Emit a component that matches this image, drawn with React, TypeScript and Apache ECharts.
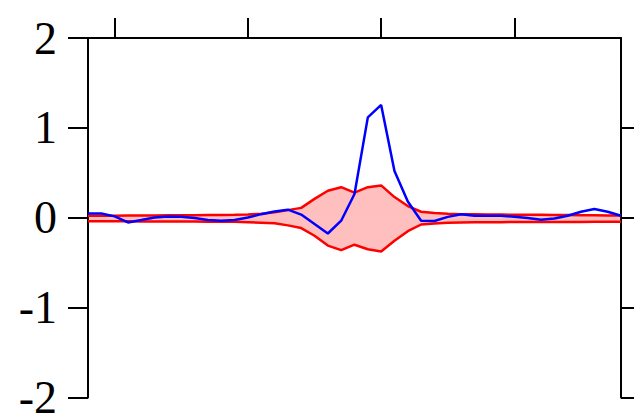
import React, { useEffect, useRef } from "react";
import * as echarts from "echarts";

const lags = [
  -22, -21, -20, -19, -18, -17, -16, -15, -14, -13, -12, -11, -10, -9, -8, -7, -6, -5, -4, -3, -2,
  -1, 0, 1, 2, 3, 4, 5, 6, 7, 8, 9, 10, 11, 12, 13, 14, 15, 16, 17, 18,
];

const observed = [
  0.048, 0.048, 0.015, -0.052, -0.026, 0.003, 0.015, 0.01, -0.003, -0.026, -0.033,
  -0.026, 0.003, 0.04, 0.07, 0.09, 0.035, -0.07, -0.175, -0.033, 0.264,
  1.117, 1.255, 0.52, 0.18, -0.033, -0.036, 0.01, 0.04, 0.022, 0.022,
  0.022, 0.01, -0.003, -0.022, -0.008, 0.022, 0.067, 0.097, 0.067, 0.022,
];

const upperBound = [
  0.022, 0.022, 0.022, 0.025, 0.025, 0.025, 0.027, 0.027, 0.028, 0.03, 0.03,
  0.032, 0.035, 0.045, 0.06, 0.085, 0.11, 0.21, 0.3, 0.34, 0.28,
  0.34, 0.36, 0.23, 0.13, 0.067, 0.052, 0.045, 0.04, 0.038, 0.036,
  0.035, 0.034, 0.033, 0.032, 0.03, 0.03, 0.028, 0.027, 0.026, 0.025,
];

const lowerBound = [
  -0.04, -0.04, -0.04, -0.04, -0.041, -0.041, -0.042, -0.042, -0.043, -0.044, -0.045,
  -0.045, -0.05, -0.055, -0.06, -0.085, -0.115, -0.2, -0.31, -0.36, -0.3,
  -0.35, -0.375, -0.256, -0.15, -0.075, -0.063, -0.055, -0.052, -0.05, -0.05,
  -0.049, -0.048, -0.048, -0.047, -0.047, -0.046, -0.046, -0.045, -0.045, -0.045,
];

const yTicks = [-2, -1, 0, 1, 2];
const topTicks = [-20, -10, 0, 10];
const rightTicks = [-2, -1, 0, 1];

export default function App() {
  const ref = useRef<HTMLDivElement>(null);
  useEffect(() => {
    if (!ref.current) return;
    const chart = echarts.init(ref.current, undefined, { renderer: "svg" });
    const pairs = (vals: number[]) => vals.map((v, i) => [lags[i], v]);
    const axisLine = { show: true, onZero: false, lineStyle: { color: "#000", width: 2 } };
    const bandFill = { color: "rgba(255,0,0,0.25)", opacity: 1, origin: 0 };
    chart.setOption({
      animation: false,
      backgroundColor: "#fff",
      grid: { left: 88, right: 13, top: 38, bottom: 15.5, containLabel: false, outerBoundsMode: "none" },
      xAxis: {
        type: "value",
        position: "top",
        min: lags[0],
        max: lags[lags.length - 1],
        axisLine,
        axisTick: { show: true, inside: false, length: 20, customValues: topTicks, lineStyle: { color: "#000", width: 2 } },
        axisLabel: { show: false },
        splitLine: { show: false },
      },
      yAxis: [
        {
          type: "value",
          position: "left",
          min: yTicks[0],
          max: yTicks[yTicks.length - 1],
          interval: 1,
          axisLine,
          axisTick: { show: true, inside: false, length: 20, lineStyle: { color: "#000", width: 2 } },
          axisLabel: {
            show: true,
            margin: 31,
            fontFamily: "Liberation Serif",
            fontSize: 46,
            color: "#000",
            customValues: yTicks,
          },
          splitLine: { show: false },
        },
        {
          type: "value",
          position: "right",
          min: yTicks[0],
          max: yTicks[yTicks.length - 1],
          interval: 1,
          axisLine,
          axisTick: { show: true, inside: false, length: 16, customValues: rightTicks, lineStyle: { color: "#000", width: 2 } },
          axisLabel: { show: false },
          splitLine: { show: false },
        },
      ],
      series: [
        {
          type: "line",
          data: pairs(upperBound),
          symbol: "none",
          lineStyle: { color: "#ff0000", width: 2.5 },
          areaStyle: bandFill,
        },
        {
          type: "line",
          data: pairs(lowerBound),
          symbol: "none",
          lineStyle: { color: "#ff0000", width: 2.5 },
          areaStyle: bandFill,
        },
        {
          type: "line",
          data: pairs(observed),
          symbol: "none",
          lineStyle: { color: "#0000ff", width: 2.5 },
          z: 5,
        },
      ],
    });
    return () => chart.dispose();
  }, []);
  return (
    <div
      ref={ref}
      style={{ position: "fixed", left: 0, top: 0, width: 634, height: 413 }}
    />
  );
}
